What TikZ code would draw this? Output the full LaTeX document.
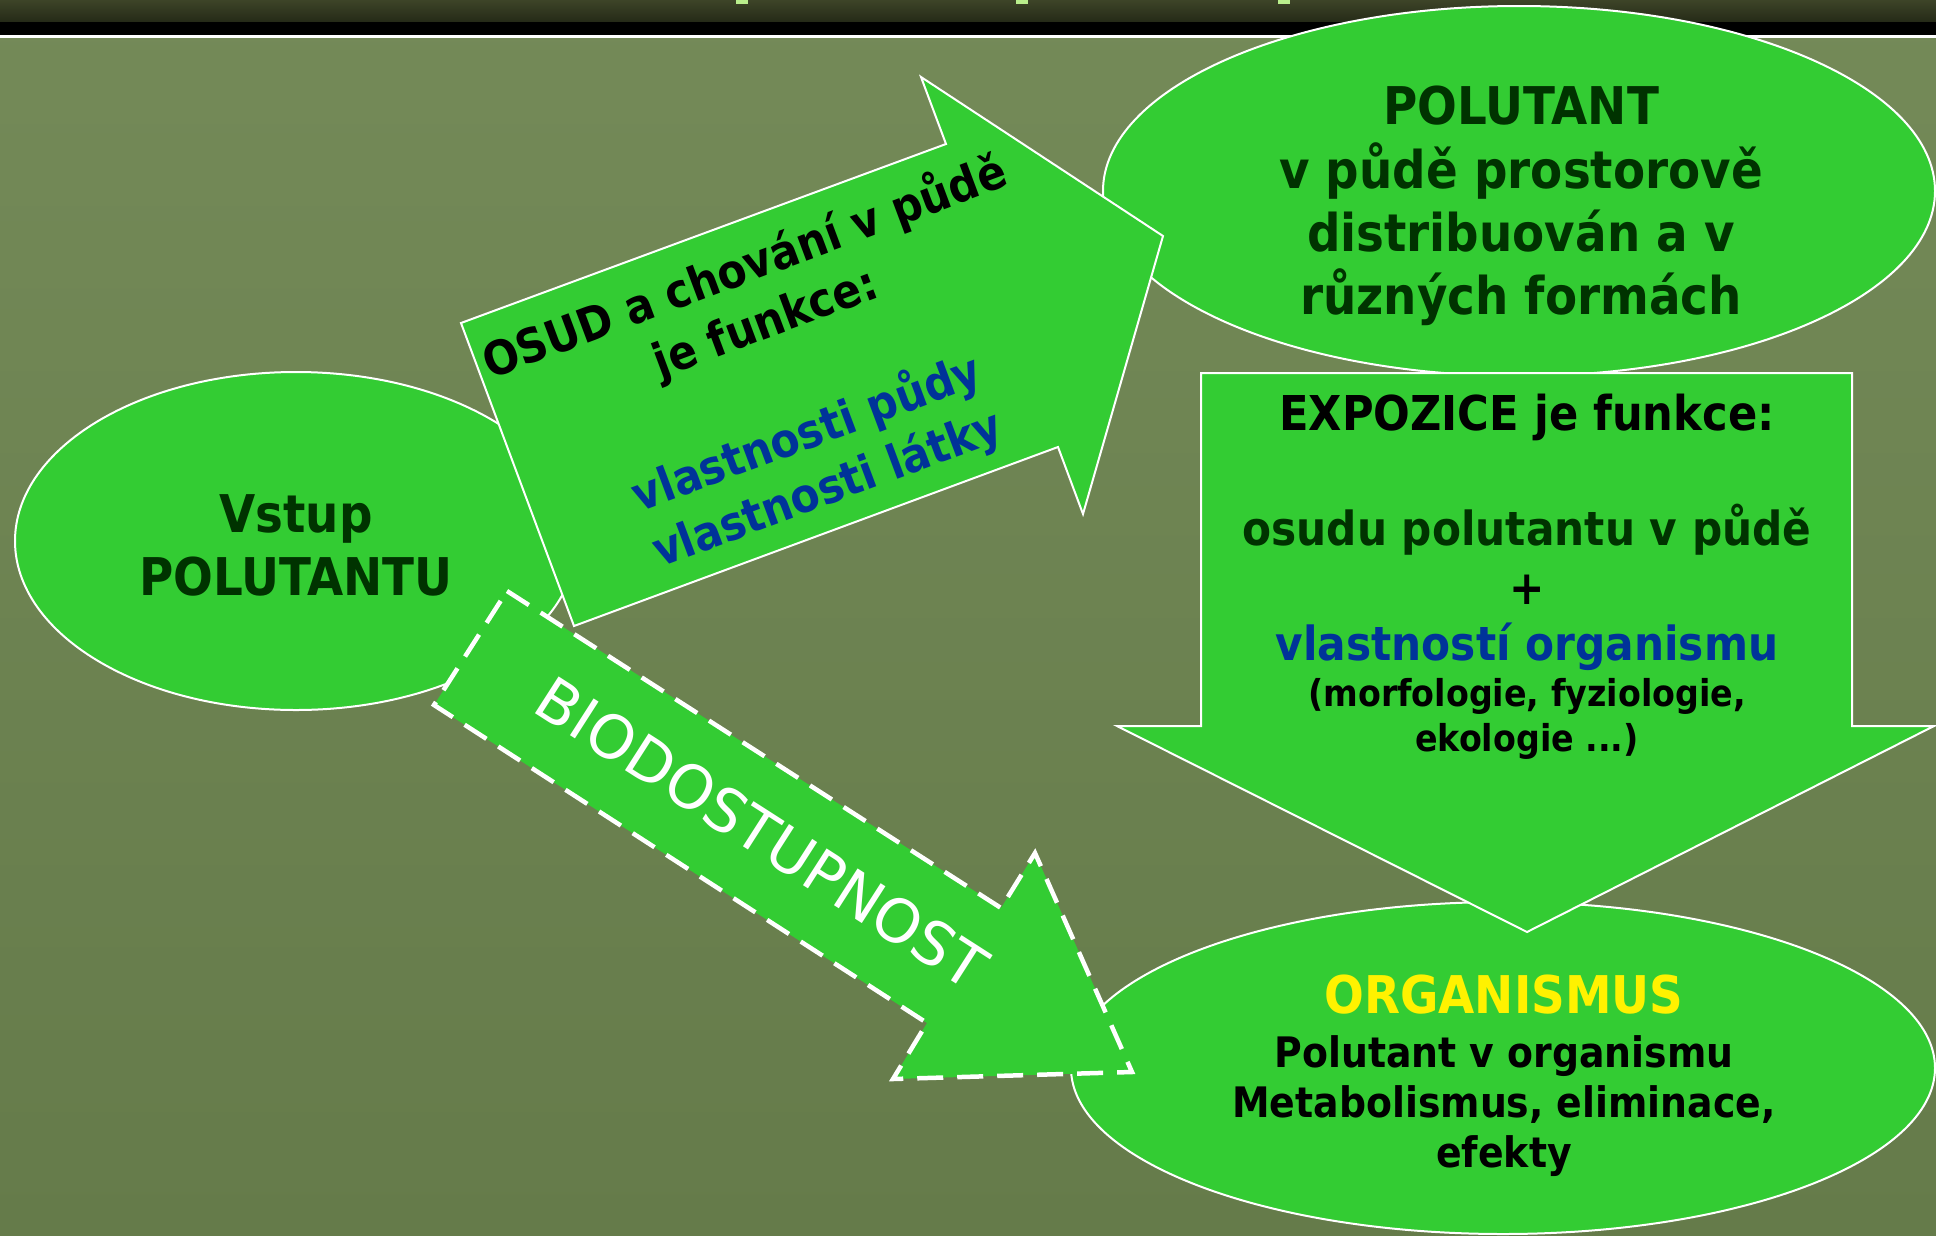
\documentclass[tikz,border=0pt]{standalone}
\usepackage{fontspec}
\setmainfont{DejaVu Sans}[FakeStretch=0.9]
\newfontfamily\plainfont{DejaVu Sans}
\usepackage{tikz}
\usetikzlibrary{shapes.geometric}
\definecolor{leaf}{HTML}{33CC33}
\definecolor{mosstop}{HTML}{748A58}
\definecolor{mossbot}{HTML}{657B4A}
\definecolor{pine}{HTML}{003300}
\definecolor{ink}{HTML}{003399}
\definecolor{barolive}{HTML}{3D4428}
\definecolor{barshade}{HTML}{252A17}
\definecolor{titlebit}{HTML}{B9EE8C}

\begin{document}
\begin{tikzpicture}[x=1pt,y=-1pt,
  blob/.style={shape=ellipse,fill=leaf,draw=white,line width=2pt,inner sep=0pt},
  slab/.style={fill=leaf,draw=white,line width=2pt},
  line/.style={anchor=base,inner sep=0pt},
  big/.style={font=\bfseries\fontsize{52}{62}\selectfont},
  mid/.style={font=\bfseries\fontsize{47}{56}\selectfont},
  low/.style={font=\bfseries\fontsize{42}{50}\selectfont},
  tiny/.style={font=\bfseries\fontsize{37}{44}\selectfont}]
\useasboundingbox (0,0) rectangle (1936,1235);
\clip (0,0) rectangle (1936,1235);
\shade [top color=mosstop,bottom color=mossbot] (0,0) rectangle (1936,1235);
% title bar
\shade [top color=barolive,bottom color=barshade] (0,0) rectangle (1936,22);
\fill [black] (0,22) rectangle (1936,35);
\fill [white] (0,35) rectangle (1936,37.5);
\fill [titlebit] (736,0) rectangle (748,4);
\fill [titlebit] (1016,0) rectangle (1028,4);
\fill [titlebit] (1278,0) rectangle (1290,4);

\path (296,541) node (vstup) [blob,minimum width=562pt,minimum height=338pt] {};
\path (1519,191) node (polutant) [blob,minimum width=832pt,minimum height=370pt] {};
\path (1503,1068) node (organismus) [blob,minimum width=864pt,minimum height=332pt] {};

\draw [slab] (461,323) -- (946,144) -- (921,77) -- (1163,236) -- (1083,514) -- (1058,447) -- (574,626) -- cycle;
\draw [slab] (1201,373) -- (1852,373) -- (1852,726) -- (1934,726) -- (1527,932) -- (1117,726) -- (1201,726) -- cycle;
\draw [fill=leaf,draw=white,line width=4.5pt,dash pattern=on 26pt off 14pt]
  (507,591) -- (1001,908) -- (1035,853) -- (1132,1072) -- (893,1079) -- (927,1023) -- (434,705) -- cycle;

\path (296,532) node (vstupA) [line,big,text=pine] {Vstup};
\path (296,595) node (vstupB) [line,big,text=pine] {POLUTANTU};

\path (1521,124) node (polA) [line,big,text=pine] {POLUTANT};
\path (1521,188) node (polB) [line,big,text=pine] {v půdě prostorově};
\path (1521,251) node (polC) [line,big,text=pine] {distribuován a v};
\path (1521,314) node (polD) [line,big,text=pine] {různých formách};

\path (786,378) node (osud) [rotate=20.5,align=center,inner sep=0pt,font=\bfseries\fontsize{47}{59}\selectfont]
  {OSUD a chování v půdě\\je funkce:\\[59pt]\textcolor{ink}{vlastnosti půdy}\\\textcolor{ink}{vlastnosti látky}};

\path (1527,430) node (expA) [line,font=\bfseries\fontsize{48}{56}\selectfont] {EXPOZICE je funkce:};
\path (1527,545) node (expB) [line,mid,text=pine] {osudu polutantu v půdě};
\path (1527,604) node (expC) [line,mid] {+};
\path (1527,660) node (expD) [line,mid,text=ink] {vlastností organismu};
\path (1527,706) node (expE) [line,tiny] {(morfologie, fyziologie,};
\path (1527,751) node (expF) [line,tiny] {ekologie ...)};

\path (762,833) node (bio) [rotate=-32.7,inner sep=0pt,text=white,font=\plainfont\fontsize{60}{72}\selectfont] {BIODOSTUPNOST};

\path (1504,1013) node (orgA) [line,big,text=yellow] {ORGANISMUS};
\path (1504,1067) node (orgB) [line,low] {Polutant v organismu};
\path (1504,1117) node (orgC) [line,low] {Metabolismus, eliminace,};
\path (1504,1167) node (orgD) [line,low] {efekty};
\end{tikzpicture}
\end{document}
